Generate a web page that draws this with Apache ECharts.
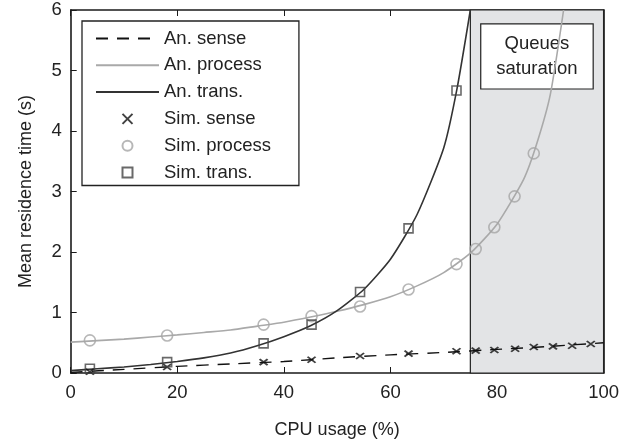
<!DOCTYPE html>
<html>
<head>
<meta charset="utf-8">
<script src="https://cdn.jsdelivr.net/npm/echarts@6/dist/echarts.min.js"></script>
<style>
  html, body { margin: 0; padding: 0; background: #fff; }
  #chart { width: 622px; height: 444px; }
</style>
</head>
<body>
<div id="chart"></div>
<script>
// Analytic model curves (CPU usage %, mean residence time s)
const senseX = [0, 10, 20, 30, 40, 50, 60, 70, 80, 90, 100];
const senseAn = [0.01, 0.06, 0.11, 0.15, 0.19, 0.25, 0.30, 0.34, 0.39, 0.44, 0.50];

const procX = [0, 5, 10, 15, 20, 25, 30, 35, 40, 45, 50, 55, 60, 65, 70, 75, 80, 85, 87.5, 90, 92.5];
const procAn = [0.51, 0.535, 0.56, 0.595, 0.63, 0.67, 0.71, 0.775, 0.84, 0.925, 1.02, 1.13, 1.26, 1.44, 1.66, 1.98, 2.46, 3.2, 3.8, 4.6, 6.0];

const transX = [0, 5, 10, 15, 20, 25, 30, 35, 40, 45, 50, 55, 60, 65, 70, 72.5, 75];
const transAn = [0.04, 0.07, 0.10, 0.14, 0.19, 0.25, 0.33, 0.45, 0.60, 0.78, 1.03, 1.38, 1.88, 2.62, 3.72, 4.70, 6.0];

// Simulation results
const simSenseX = [3.6, 18.1, 36.2, 45.2, 54.3, 63.4, 72.4, 76.0, 79.5, 83.4, 86.9, 90.5, 94.1, 97.6];
const simSense = [0.02, 0.10, 0.18, 0.22, 0.28, 0.32, 0.36, 0.37, 0.38, 0.40, 0.43, 0.44, 0.45, 0.48];

const simProcX = [3.6, 18.1, 36.2, 45.2, 54.3, 63.4, 72.4, 76.0, 79.5, 83.3, 86.9];
const simProc = [0.54, 0.62, 0.80, 0.94, 1.10, 1.38, 1.80, 2.05, 2.41, 2.92, 3.63];

const simTransX = [3.6, 18.1, 36.2, 45.2, 54.3, 63.4, 72.4];
const simTrans = [0.07, 0.18, 0.49, 0.80, 1.34, 2.39, 4.67];

// Saturation region and axis ticks
const saturationRange = [75, 100];
const saturationLabel = 'Queues\nsaturation';
const xTicks = { min: 0, max: 100, interval: 20 };
const yTicks = { min: 0, max: 6, interval: 1 };

const zip = (xs, ys) => xs.map((x, i) => [x, ys[i]]);

const FONT = 'Liberation Sans, Arial, Helvetica, sans-serif';
const AXIS = '#1a1a1a';
const CROSS = 'path://M0,0L10,10M10,0L0,10';
const SQUARE = 'path://M0,0H10V10H0Z';

const chart = echarts.init(document.getElementById('chart'), null, { renderer: 'canvas' });

const lineLegendItem = (name) => ({ name, itemStyle: { opacity: 0 } });

chart.setOption({
  animation: false,
  backgroundColor: '#fff',
  textStyle: { fontFamily: FONT },
  grid: { left: 70.7, right: 17, top: 10, bottom: 69.7, containLabel: false },
  legend: {
    left: 82, top: 21, orient: 'vertical',
    padding: [8, 28, 3.5, 13],
    itemGap: 7.8, itemWidth: 63, itemHeight: 10,
    backgroundColor: '#fff', borderColor: '#222', borderWidth: 1.3,
    textStyle: { fontSize: 18.5, color: '#222', fontFamily: FONT },
    data: [
      lineLegendItem('An. sense'), lineLegendItem('An. process'), lineLegendItem('An. trans.'),
      'Sim. sense', 'Sim. process', 'Sim. trans.'
    ]
  },
  xAxis: [
    {
      type: 'value', min: xTicks.min, max: xTicks.max, interval: xTicks.interval,
      name: 'CPU usage (%)', nameLocation: 'middle', nameGap: 48,
      nameTextStyle: { fontSize: 18, color: '#222', fontFamily: FONT },
      axisLine: { show: true, lineStyle: { color: AXIS, width: 1.6 } },
      axisTick: { show: true, inside: true, length: 6, lineStyle: { color: AXIS, width: 1 } },
      axisLabel: { fontSize: 18.5, color: '#222', margin: 10, fontFamily: FONT },
      splitLine: { show: false }
    },
    {
      type: 'value', position: 'top', min: xTicks.min, max: xTicks.max, interval: xTicks.interval,
      axisLine: { show: true, onZero: false, lineStyle: { color: AXIS, width: 1.6 } },
      axisTick: { show: true, inside: true, length: 6, lineStyle: { color: AXIS, width: 1 } },
      axisLabel: { show: false },
      splitLine: { show: false }
    }
  ],
  yAxis: [
    {
      type: 'value', min: yTicks.min, max: yTicks.max, interval: yTicks.interval,
      name: 'Mean residence time (s)', nameLocation: 'middle', nameGap: 36,
      nameTextStyle: { fontSize: 18, color: '#222', fontFamily: FONT },
      axisLine: { show: true, lineStyle: { color: AXIS, width: 1.6 } },
      axisTick: { show: true, inside: true, length: 6, lineStyle: { color: AXIS, width: 1 } },
      axisLabel: { fontSize: 18.5, color: '#222', margin: 9, fontFamily: FONT },
      splitLine: { show: false }
    },
    {
      type: 'value', position: 'right', min: yTicks.min, max: yTicks.max, interval: yTicks.interval,
      axisLine: { show: true, onZero: false, lineStyle: { color: AXIS, width: 1.6 } },
      axisTick: { show: false }, axisLabel: { show: false }, splitLine: { show: false }
    }
  ],
  series: [
    {
      name: 'saturation', type: 'line', data: [], z: 1, silent: true,
      markArea: {
        silent: true,
        itemStyle: { color: '#e3e4e6', borderColor: '#222', borderWidth: 1.2 },
        label: {
          show: true, position: 'insideTop', distance: 15,
          formatter: saturationLabel,
          fontSize: 18.5, lineHeight: 25, color: '#222', fontFamily: FONT,
          backgroundColor: '#fff', borderColor: '#222', borderWidth: 1.2,
          padding: [7, 15, 7, 15], align: 'center'
        },
        data: [[{ xAxis: saturationRange[0] }, { xAxis: saturationRange[1] }]]
      }
    },
    {
      name: 'An. sense', type: 'line', z: 3, data: zip(senseX, senseAn),
      symbol: 'none', smooth: 0.2,
      lineStyle: { color: '#111', width: 1.4, type: [12, 9] }, itemStyle: { color: '#111' }
    },
    {
      name: 'An. process', type: 'line', z: 3, data: zip(procX, procAn),
      symbol: 'none', smooth: 0.2,
      lineStyle: { color: '#a9a9a9', width: 1.6 }, itemStyle: { color: '#a9a9a9' }
    },
    {
      name: 'An. trans.', type: 'line', z: 3, data: zip(transX, transAn),
      symbol: 'none', smooth: 0.2,
      lineStyle: { color: '#333', width: 1.6 }, itemStyle: { color: '#333' }
    },
    {
      name: 'Sim. sense', type: 'scatter', z: 4, data: zip(simSenseX, simSense),
      symbol: CROSS, symbolSize: [8, 6],
      itemStyle: { color: 'none', borderColor: '#111', borderWidth: 1.8 }
    },
    {
      name: 'Sim. process', type: 'scatter', z: 4, data: zip(simProcX, simProc),
      symbol: 'circle', symbolSize: 11,
      itemStyle: { color: 'rgba(255,255,255,0)', borderColor: '#a5a5a5', borderWidth: 1.6 }
    },
    {
      name: 'Sim. trans.', type: 'scatter', z: 4, data: zip(simTransX, simTrans),
      symbol: SQUARE, symbolSize: 9,
      itemStyle: { color: 'rgba(255,255,255,0)', borderColor: '#444', borderWidth: 1.6 }
    }
  ]
});
</script>
</body>
</html>
